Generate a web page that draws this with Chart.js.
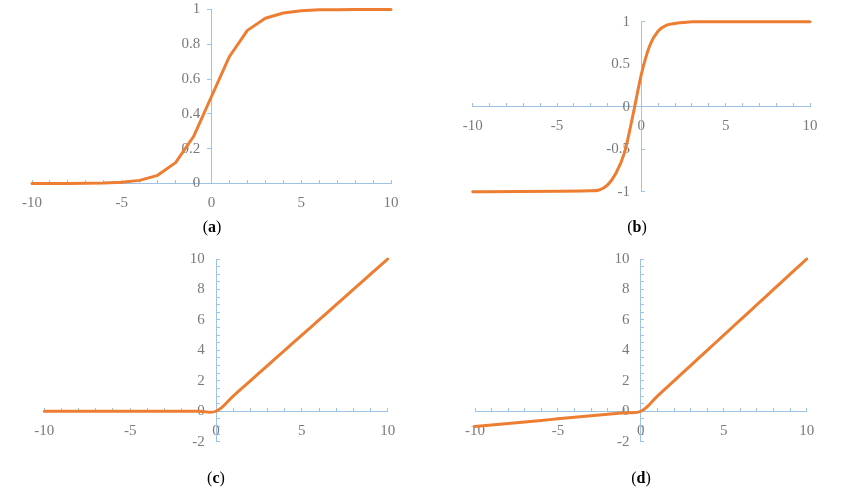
<!DOCTYPE html>
<html>
<head>
<meta charset="utf-8">
<script src="https://cdn.jsdelivr.net/npm/chart.js@4.4.1/dist/chart.umd.min.js"></script>
<style>
  body { margin: 0; background: #fff; width: 850px; height: 489px; position: relative; overflow: hidden; }
  canvas { position: absolute; }
  .cap { position: absolute; font-family: 'Liberation Serif', serif; font-size: 16px; color: #000; transform: translate(-50%, -50%); white-space: nowrap; }
</style>
</head>
<body>
<canvas id="chartA" width="425" height="245" style="left:0;top:0"></canvas>
<canvas id="chartB" width="425" height="245" style="left:425px;top:0"></canvas>
<canvas id="chartC" width="425" height="244" style="left:0;top:245px"></canvas>
<canvas id="chartD" width="425" height="244" style="left:425px;top:245px"></canvas>
<div class="cap" style="left:212px;top:227px">(<b>a</b>)</div>
<div class="cap" style="left:637px;top:227px">(<b>b</b>)</div>
<div class="cap" style="left:216px;top:478px">(<b>c</b>)</div>
<div class="cap" style="left:641px;top:478px">(<b>d</b>)</div>
<script>
// values
const xInt = [-10, -9, -8, -7, -6, -5, -4, -3, -2, -1, 0, 1, 2, 3, 4, 5, 6, 7, 8, 9, 10];
const sigmoidY = [0.00005, 0.0001, 0.0003, 0.0009, 0.0025, 0.007, 0.018, 0.047, 0.12, 0.27, 0.5, 0.73, 0.88, 0.95, 0.98, 0.993, 0.998, 0.999, 1, 1, 1];
const tanhX = [-10, -3, -2.5, -2, -1.5, -1, -0.5, 0, 0.5, 1, 1.5, 2, 2.5, 3, 10];
const tanhY = [-1, -0.99, -0.98, -0.92, -0.78, -0.54, -0.1, 0.38, 0.72, 0.89, 0.96, 0.98, 0.99, 1, 1];
const reluY = [0, 0, 0, 0, 0, 0, 0, 0, 0, 0, 0, 1, 2, 3, 4, 5, 6, 7, 8, 9, 10];
const leakyY = [-1, -0.9, -0.8, -0.7, -0.6, -0.5, -0.4, -0.3, -0.2, -0.1, 0, 1, 2, 3, 4, 5, 6, 7, 8, 9, 10];

// tick labels
const xTickLabels = [-10, -5, 0, 5, 10];
const yTicksA = [0, 0.2, 0.4, 0.6, 0.8, 1];
const yTicksB = [-1, -0.5, 0, 0.5, 1];
const yTicksCD = [-2, 0, 2, 4, 6, 8, 10];

const axisColor = '#9dc3e6';
const lineColor = '#ed7d31';
const tickFont = { family: "'Liberation Serif', serif", size: 15 };
const tickColor = '#7a7a7a';

function toPoints(xs, ys) {
  return xs.map((x, i) => ({ x: x, y: ys[i] }));
}

function makeChart(id, pts, p) {
  const ctx = document.getElementById(id).getContext('2d');
  return new Chart(ctx, {
    type: 'line',
    data: {
      datasets: [{
        data: pts,
        borderColor: lineColor,
        borderWidth: 3,
        pointRadius: 0,
        fill: false,
        tension: p.tension,
        cubicInterpolationMode: p.mode || 'default',
        borderCapStyle: 'round',
        borderJoinStyle: 'round',
        clip: 6,
      }]
    },
    options: {
      responsive: false,
      animation: false,
      layout: { padding: p.pad },
      plugins: { legend: { display: false }, tooltip: { enabled: false } },
      scales: {
        x: {
          type: 'linear',
          min: -10,
          max: 10,
          position: { y: 0 },
          afterFit: s => { s.height = 0; },
          border: { color: axisColor, width: 1 },
          grid: { drawOnChartArea: false, color: axisColor, tickLength: -4 },
          ticks: {
            stepSize: 1,
            autoSkip: false,
            minRotation: 0,
            maxRotation: 0,
            padding: 14.5,
            font: tickFont,
            color: tickColor,
            callback: v => xTickLabels.includes(v) ? String(v) : ''
          }
        },
        y: {
          type: 'linear',
          min: p.yMin,
          max: p.yMax,
          position: { x: 0 },
          afterFit: s => { s.width = 0; },
          border: { color: axisColor, width: 1 },
          grid: { drawOnChartArea: false, color: axisColor, tickLength: p.yTick },
          ticks: {
            stepSize: p.yStep,
            autoSkip: false,
            padding: 0,
            font: tickFont,
            color: tickColor,
            // labels sit right on the axis line here, so keep a small gap with spaces
            callback: v => {
              const r = Math.round(v * 100) / 100;
              return p.yLabels.includes(r) ? String(r) + '   ' : '';
            }
          }
        }
      }
    }
  });
}

makeChart('chartA', toPoints(xInt, sigmoidY), {
  tension: 0, pad: { left: 32, right: 34, top: 9.5, bottom: 61.5 },
  yMin: 0, yMax: 1, yStep: 0.2, yLabels: yTicksA, yTick: 4
});
makeChart('chartB', toPoints(tanhX, tanhY), {
  tension: 0.4, mode: 'monotone', pad: { left: 47.7, right: 40, top: 21.7, bottom: 53.3 },
  yMin: -1, yMax: 1, yStep: 0.5, yLabels: yTicksB, yTick: -4
});
makeChart('chartC', toPoints(xInt, reluY), {
  tension: 0.4, pad: { left: 44.3, right: 37.3, top: 14, bottom: 47.3 },
  yMin: -2, yMax: 10, yStep: 0.5, yLabels: yTicksCD, yTick: -4
});
makeChart('chartD', toPoints(xInt, leakyY), {
  tension: 0.4, pad: { left: 50, right: 43.3, top: 14, bottom: 47.3 },
  yMin: -2, yMax: 10, yStep: 0.5, yLabels: yTicksCD, yTick: -4
});
</script>
</body>
</html>
